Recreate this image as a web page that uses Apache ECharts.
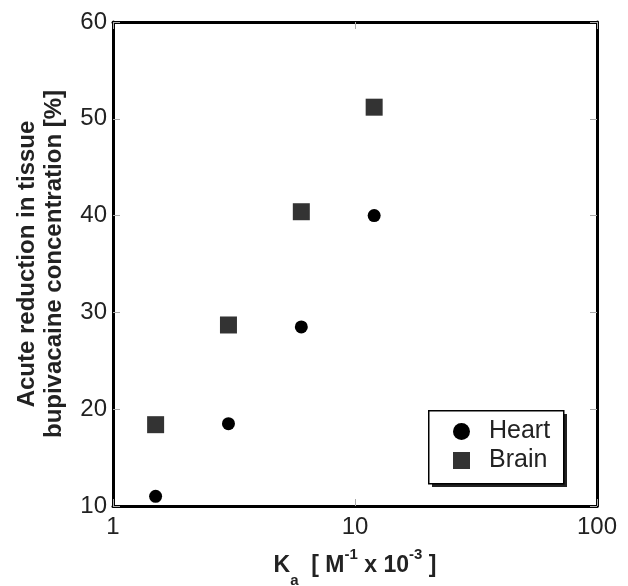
<!DOCTYPE html>
<html><head><meta charset="utf-8">
<script src="https://cdn.jsdelivr.net/npm/echarts@6/dist/echarts.min.js"></script>
<style>html,body{margin:0;padding:0;background:#fff}#c{width:628px;height:586px}</style>
</head><body><div id="c"></div>
<script>
const kaValues = [1.5, 3, 6, 12];
const heart = [11.0, 18.5, 28.5, 40.0];
const brain = [18.4, 28.7, 40.4, 51.2];
const xTicks = [1, 10, 100];
const yTicks = [10, 20, 30, 40, 50, 60];

const chart = echarts.init(document.getElementById('c'));
const font = 'Liberation Sans, Arial, sans-serif';
const tick = {show: true, inside: true, length: 7, lineStyle: {color: '#aaa', width: 1}};
const line = {show: true, lineStyle: {color: '#000', width: 3}};
chart.setOption({
  animation: false,
  backgroundColor: '#fff',
  grid: {left: 113, right: 31, top: 22, bottom: 80, outerBoundsMode: 'none', containLabel: false},
  graphic: [
    {type: 'rect', z: 5, left: 432, top: 414, shape: {width: 135, height: 73}, style: {fill: '#222'}},
    {type: 'rect', z: 6, left: 428, top: 410, shape: {width: 135, height: 73},
      style: {fill: '#fff', stroke: '#000', lineWidth: 1.5}}
  ],
  xAxis: [{
    type: 'log', logBase: 10, min: 1, max: 100,
    axisLine: line, axisTick: tick, splitLine: {show: false}, minorTick: {show: false},
    axisLabel: {fontSize: 24, color: '#222', fontFamily: font, margin: 9,
      formatter: v => xTicks.includes(Math.round(v)) ? String(Math.round(v)) : ''},
    name: '{b|K}{sub|a}{b|  [ M}{sup|-1}{b| x 10}{sup|-3}{b| ]}',
    nameLocation: 'middle', nameGap: 37,
    nameTextStyle: {fontFamily: font, rich: {
      b: {fontSize: 23, fontWeight: 'bold', color: '#222', fontFamily: font, lineHeight: 44, verticalAlign: 'middle'},
      sub: {fontSize: 15, fontWeight: 'bold', color: '#222', fontFamily: font, lineHeight: 15, verticalAlign: 'bottom'},
      sup: {fontSize: 15, fontWeight: 'bold', color: '#222', fontFamily: font, lineHeight: 15, verticalAlign: 'top', padding: [3, 0, 0, 0]}
    }}
  }, {
    type: 'log', logBase: 10, min: 1, max: 100, position: 'top',
    axisLine: line, axisTick: tick, axisLabel: {show: false}, splitLine: {show: false}
  }],
  yAxis: [{
    type: 'value', min: 10, max: 60, interval: 10,
    axisLine: line, axisTick: tick, splitLine: {show: false},
    axisLabel: {fontSize: 24, color: '#222', fontFamily: font, margin: 6},
    name: 'Acute reduction in tissue\nbupivacaine concentration [%]',
    nameLocation: 'middle', nameGap: 45, nameRotate: 90,
    nameTruncate: {maxWidth: 1000},
    nameTextStyle: {fontSize: 24, fontWeight: 'bold', color: '#222', fontFamily: font, lineHeight: 27}
  }, {
    type: 'value', min: 10, max: 60, interval: 10, position: 'right',
    axisLine: line, axisTick: tick, axisLabel: {show: false}, splitLine: {show: false}
  }],
  legend: {
    orient: 'vertical', left: 453, top: 419, z: 10,
    padding: 0, itemGap: 4,
    itemWidth: 17, itemHeight: 17,
    textStyle: {fontSize: 25, lineHeight: 25, color: '#222', fontFamily: font, padding: [0,0,0,14]},
    data: [{name: 'Heart', icon: 'circle'}, {name: 'Brain', icon: 'rect'}]
  },
  series: [
    {name: 'Heart', type: 'scatter', symbol: 'circle', symbolSize: 13,
      itemStyle: {color: '#000', opacity: 1}, data: kaValues.map((k, i) => [k, heart[i]])},
    {name: 'Brain', type: 'scatter', symbol: 'rect', symbolSize: 17,
      itemStyle: {color: '#333', opacity: 1}, data: kaValues.map((k, i) => [k, brain[i]])}
  ]
});
</script></body></html>
